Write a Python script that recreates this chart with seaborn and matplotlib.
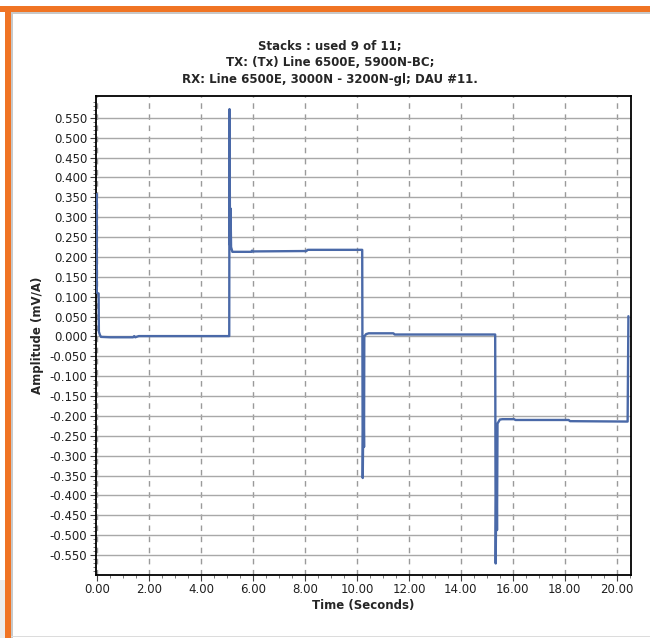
import matplotlib
matplotlib.use("Agg")
import matplotlib.pyplot as plt
from matplotlib.patches import Rectangle
from matplotlib.ticker import FixedLocator, MultipleLocator, FuncFormatter
import numpy as np
import pandas as pd
import seaborn as sns

# Stacked decay trace: time (s) and amplitude (mV/A)
time_s = [-0.02, -0.02, 0.05, 0.06, 0.10, 0.14, 0.50, 1.38, 1.42, 1.46, 1.55, 1.60,
          5.08, 5.09, 5.11, 5.13, 5.15, 5.20, 5.94, 5.96, 6.00, 8.05, 8.10,
          10.20, 10.22, 10.25, 10.27, 10.28, 10.35, 10.45, 11.40, 11.45,
          15.32, 15.34, 15.37, 15.39, 15.41, 15.50, 15.60, 16.05, 16.10,
          18.15, 18.20, 20.42, 20.45]
amplitude = [0.358, 0.110, 0.108, 0.012, 0.004, -0.001, -0.002, -0.002, 0.001, -0.002, 0.000, 0.001,
             0.001, 0.572, 0.230, 0.322, 0.225, 0.213, 0.213, 0.216, 0.214, 0.215, 0.218,
             0.218, -0.356, -0.150, -0.278, 0.000, 0.006, 0.008, 0.008, 0.005,
             0.005, -0.571, -0.300, -0.487, -0.219, -0.209, -0.208, -0.208, -0.210,
             -0.210, -0.213, -0.214, 0.051]

# axis ticks
x_ticks = [0.0, 2.0, 4.0, 6.0, 8.0, 10.0, 12.0, 14.0, 16.0, 18.0, 20.0]
y_ticks = [-0.55, -0.50, -0.45, -0.40, -0.35, -0.30, -0.25, -0.20, -0.15, -0.10, -0.05,
           0.0, 0.05, 0.10, 0.15, 0.20, 0.25, 0.30, 0.35, 0.40, 0.45, 0.50, 0.55]

title_lines = ["Stacks : used 9 of 11;",
               "TX: (Tx) Line 6500E, 5900N-BC;",
               "RX: Line 6500E, 3000N - 3200N-gl; DAU #11."]
x_label = "Time (Seconds)"
y_label = "Amplitude (mV/A)"

df = pd.DataFrame({"t": time_s, "amp": amplitude})

sns.set_style("white")
plt.rcParams["font.family"] = ["DejaVu Sans"]
plt.rcParams["axes.unicode_minus"] = False

fig = plt.figure(figsize=(6.5, 6.38), dpi=100)
fig.patch.set_facecolor("white")

# window frame
orange = "#f07424"
fig.patches.append(Rectangle((0, 0), 5 / 650, 58 / 638, transform=fig.transFigure,
                             facecolor="#ececec", edgecolor="none", zorder=0))
fig.patches.append(Rectangle((0, 1 - 12 / 638), 1, 6 / 638, transform=fig.transFigure,
                             facecolor=orange, edgecolor="none", zorder=1))
fig.patches.append(Rectangle((5 / 650, 0), 6 / 650, 1 - 6 / 638, transform=fig.transFigure,
                             facecolor=orange, edgecolor="none", zorder=1))
fig.patches.append(Rectangle((11 / 650, 0), 2 / 650, 1 - 12 / 638, transform=fig.transFigure,
                             facecolor="#c8c8c8", edgecolor="none", zorder=1))
fig.patches.append(Rectangle((11 / 650, 1 - 14 / 638), 1, 2 / 638, transform=fig.transFigure,
                             facecolor="#c8c8c8", edgecolor="none", zorder=1))
fig.patches.append(Rectangle((11 / 650, 1 / 638), 1, 1.5 / 638, transform=fig.transFigure,
                             facecolor="#dcdcdc", edgecolor="none", zorder=1))

ax = fig.add_axes([95.5 / 650, 63 / 638, (631 - 95.5) / 650, (575 - 96) / 638])

sns.lineplot(data=df, x="t", y="amp", ax=ax, sort=False, estimator=None,
             color="#4a69a8", linewidth=1.7, zorder=3)

ax.set_xlim(-0.07, 20.55)
ax.set_ylim(-0.600, 0.605)

ax.xaxis.set_major_locator(FixedLocator(x_ticks))
ax.xaxis.set_minor_locator(MultipleLocator(0.5))
ax.yaxis.set_major_locator(FixedLocator(y_ticks))
ax.yaxis.set_minor_locator(FixedLocator(np.round(np.arange(-0.59, 0.60, 0.01), 2)))
ax.xaxis.set_major_formatter(FuncFormatter(lambda v, p: "%.2f" % v))
ax.yaxis.set_major_formatter(FuncFormatter(lambda v, p: "%.3f" % v))

ax.grid(axis="y", which="major", color="#a8a8a8", linestyle="-", linewidth=1.0, zorder=1)
ax.grid(axis="x", which="major", color="#9a9a9a", linestyle=(0, (4, 4)), linewidth=1.0, zorder=1)
ax.set_axisbelow(True)

ax.tick_params(axis="both", which="major", direction="out", length=4, width=0.8,
               color="#404040", labelsize=8.5, labelcolor="#202020", pad=2)
ax.tick_params(axis="both", which="minor", direction="out", length=2.5, width=0.6,
               color="#606060")
ax.tick_params(axis="x", which="both", bottom=True)
ax.tick_params(axis="y", which="both", left=True)

for side, sp in ax.spines.items():
    sp.set_visible(True)
    sp.set_color("black")
    sp.set_linewidth(1.3)

ax.set_xlabel(x_label, fontsize=8.5, fontweight="bold", labelpad=2)
ax.set_ylabel(y_label, fontsize=8.5, fontweight="bold", labelpad=4)
fig.text(330 / 650, 1 - 86 / 638, "\n".join(title_lines), fontsize=8.5, fontweight="bold",
         linespacing=1.35, ha="center", va="bottom", multialignment="center")

fig.savefig("out.png", dpi=100)
